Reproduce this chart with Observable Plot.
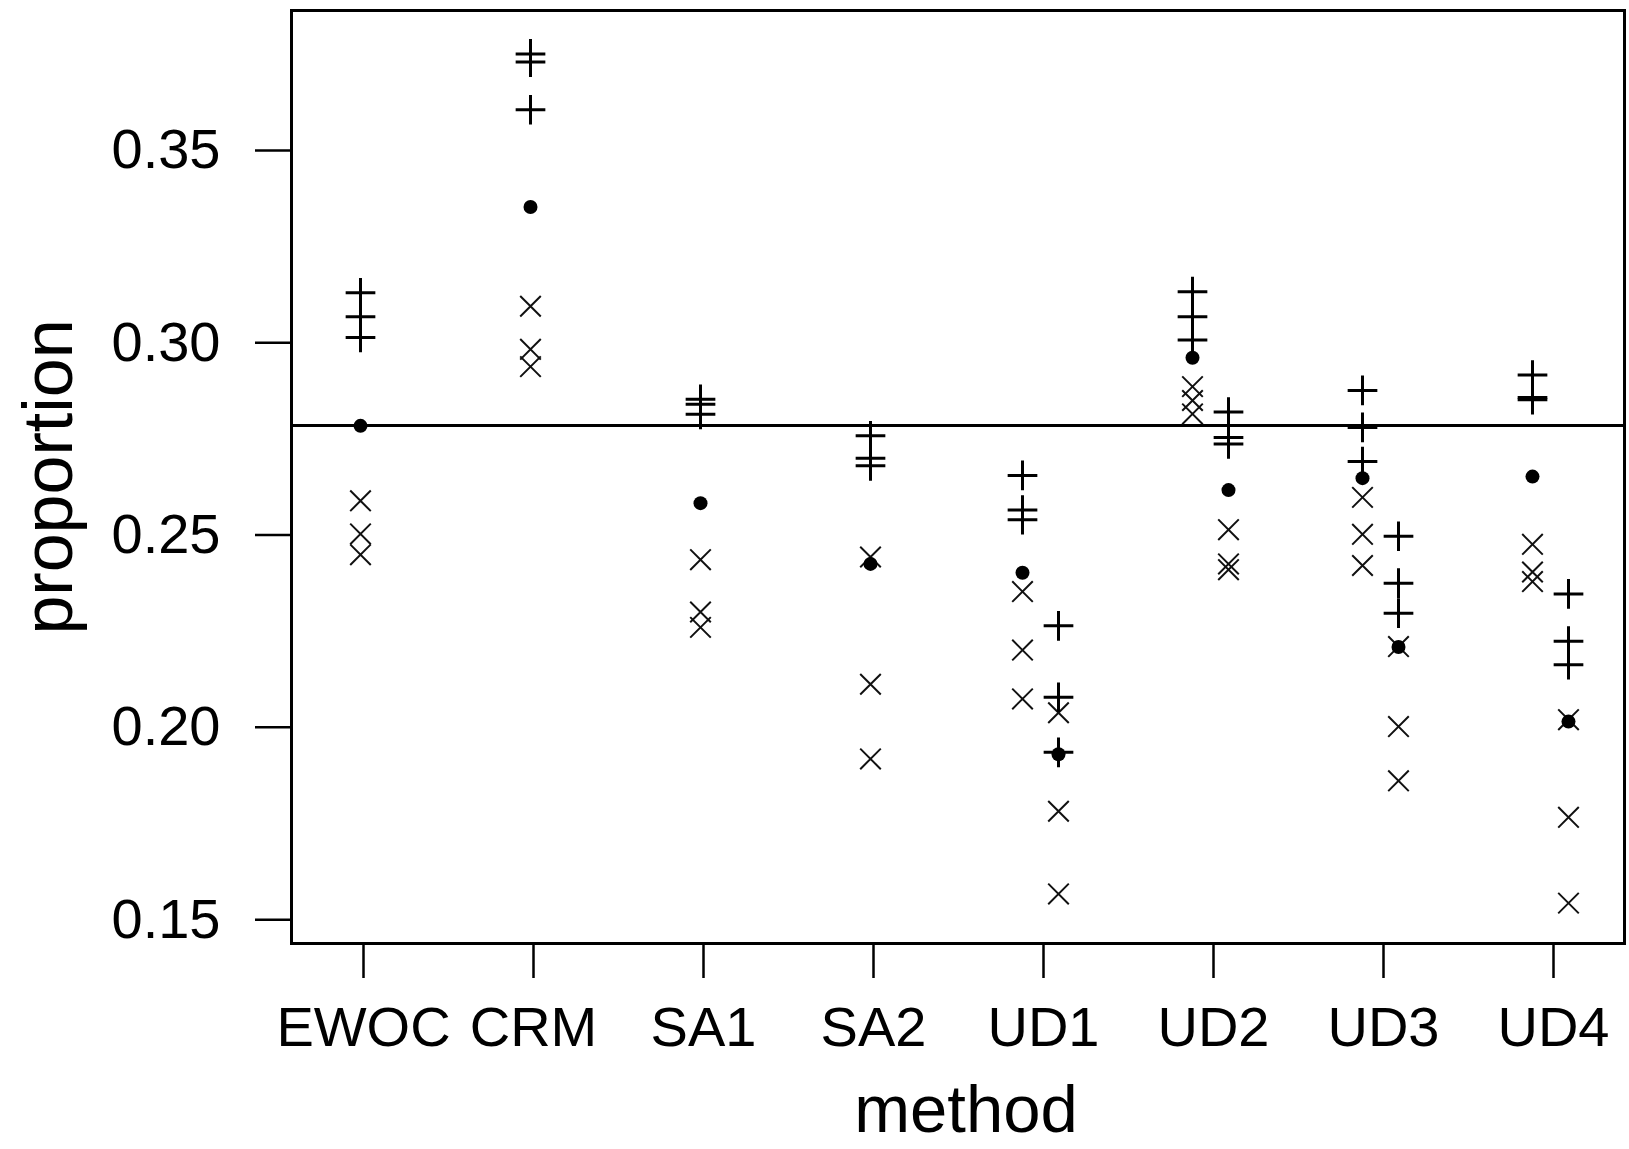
<!DOCTYPE html>
<html>
<head>
<meta charset="utf-8">
<script src="https://cdn.jsdelivr.net/npm/d3@7"></script>
<script src="https://cdn.jsdelivr.net/npm/@observablehq/plot@0.6"></script>
<style>
  html, body { margin: 0; padding: 0; background: #fff; }
  #chart svg g[aria-label*="axis"] line,
  #chart svg g[aria-label*="axis"] path { stroke-width: 2.5px; stroke: #000; }
</style>
</head>
<body>
<div id="chart"></div>
<script>
// ---- data ----
const methods = ["EWOC", "CRM", "SA1", "SA2", "UD1", "UD2", "UD3", "UD4"];
const yTicks = [0.15, 0.20, 0.25, 0.30, 0.35];
const refLine = 0.2785;

// one entry per plotted column (UD methods have a left and a right column)
const colMethod = ["EWOC", "CRM", "SA1", "SA2", "UD1", "UD1", "UD2", "UD2", "UD3", "UD3", "UD4", "UD4"];
const colSide   = ["c", "c", "c", "c", "L", "R", "L", "R", "L", "R", "L", "R"];

const plusValues = [
  [0.3130, 0.3068, 0.3014],
  [0.3751, 0.3730, 0.3606],
  [0.2853, 0.2840, 0.2814],
  [0.2758, 0.2700, 0.2680],
  [0.2655, 0.2565, 0.2540],
  [0.2264, 0.2078, 0.1935],
  [0.3133, 0.3068, 0.3007],
  [0.2820, 0.2754, 0.2737],
  [0.2876, 0.2780, 0.2691],
  [0.2497, 0.2375, 0.2297],
  [0.2916, 0.2858, 0.2852],
  [0.2347, 0.2224, 0.2163]
];
const dotValues = [0.2784, 0.3353, 0.2583, 0.2425, 0.2402, 0.1930, 0.2961, 0.2617, 0.2648, 0.2209, 0.2652, 0.2015];
const crossValues = [
  [0.2589, 0.2503, 0.2449],
  [0.3095, 0.2983, 0.2938],
  [0.2436, 0.2300, 0.2260],
  [0.2443, 0.2112, 0.1918],
  [0.2353, 0.2201, 0.2074],
  [0.2038, 0.1782, 0.1567],
  [0.2886, 0.2850, 0.2815],
  [0.2514, 0.2425, 0.2410],
  [0.2598, 0.2502, 0.2421],
  [0.2210, 0.2002, 0.1861],
  [0.2476, 0.2404, 0.2379],
  [0.2020, 0.1766, 0.1543]
];

// ---- tables ----
const plusRows = [], dotRows = [], crossRows = [];
colMethod.forEach((m, i) => {
  plusValues[i].forEach(v => plusRows.push({method: m, side: colSide[i], value: v}));
  dotRows.push({method: m, side: colSide[i], value: dotValues[i]});
  crossValues[i].forEach(v => crossRows.push({method: m, side: colSide[i], value: v}));
});

const sideOffset = {c: -3, L: -21, R: 15};
const sideMarks = [];
for (const s of ["c", "L", "R"]) {
  sideMarks.push(Plot.dot(crossRows.filter(d => d.side === s), {
    x: "method", y: "value", symbol: "times", r: 9.4, stroke: "#111", strokeWidth: 2, dx: sideOffset[s]
  }));
  sideMarks.push(Plot.dot(plusRows.filter(d => d.side === s), {
    x: "method", y: "value", symbol: "plus", r: 9.6, stroke: "#000", strokeWidth: 3, dx: sideOffset[s]
  }));
  sideMarks.push(Plot.dot(dotRows.filter(d => d.side === s), {
    x: "method", y: "value", r: 7, fill: "#000", stroke: "none", dx: sideOffset[s]
  }));
}

const chart = Plot.plot({
  width: 1629,
  height: 1149,
  marginLeft: 291,
  marginRight: 5,
  marginTop: 10,
  marginBottom: 206,
  style: {fontFamily: "'Liberation Sans', Arial, sans-serif", fontSize: "56px", background: "#fff", color: "#000"},
  x: {type: "point", domain: methods, padding: 0.4, tickSize: 35, tickPadding: 28, label: null},
  y: {domain: [0.1438, 0.3864], ticks: yTicks, tickFormat: d => d.toFixed(2), tickSize: 36, tickPadding: 35, label: null},
  marks: [
    Plot.ruleY([refLine], {stroke: "#000", strokeWidth: 3}),
    ...sideMarks,
    Plot.frame({stroke: "#000", strokeWidth: 3}),
    Plot.text(["method"], {text: d => d, frameAnchor: "bottom", textAnchor: "middle", dx: 8, dy: 188, lineAnchor: "bottom", fontSize: 67, fill: "#000"}),
    Plot.text(["proportion"], {text: d => d, frameAnchor: "left", textAnchor: "middle", rotate: -90, dx: -242, lineAnchor: "middle", fontSize: 70, fill: "#000"})
  ]
});
document.getElementById("chart").appendChild(chart);
</script>
</body>
</html>
